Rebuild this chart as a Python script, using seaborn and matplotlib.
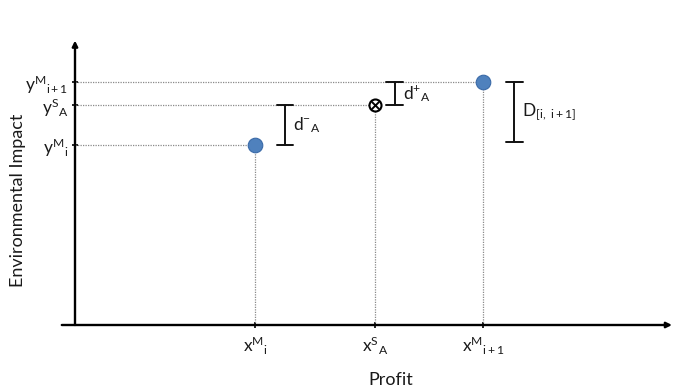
import matplotlib
matplotlib.use("Agg")
from matplotlib import pyplot as plt
import seaborn as sns
import pandas as pd

# schematic positions (arbitrary units, origin at axes crossing)
point_names = ["M_i", "S_A", "M_i1"]
profit = [3.0, 5.0, 6.8]
impact = [5.0, 6.1, 6.75]
x_tick_labels = [r"$x^{M}{}_{i}$", r"$x^{S}{}_{A}$", r"$x^{M}{}_{i+1}$"]
y_tick_labels = [r"$y^{M}{}_{i}$", r"$y^{S}{}_{A}$", r"$y^{M}{}_{i+1}$"]

# distance brackets: x position, lower y, upper y, label
bracket_x = [3.5, 5.33, 7.32]
bracket_lo = [5.0, 6.1, 5.08]
bracket_hi = [6.1, 6.75, 6.75]
bracket_labels = [r"$d^{-}{}_{A}$", r"$d^{+}{}_{A}$", r"$D_{[i,\ i+1]}$"]

df = pd.DataFrame({"name": point_names, "Profit": profit, "Impact": impact})

sns.set_style("white")
plt.rcParams["font.family"] = ["Lato", "DejaVu Sans"]
plt.rcParams["mathtext.fontset"] = "custom"
plt.rcParams["mathtext.rm"] = "Lato"
plt.rcParams["mathtext.it"] = "Lato"
plt.rcParams["mathtext.bf"] = "Lato:bold"
plt.rcParams["mathtext.default"] = "regular"

fig = plt.figure(figsize=(6.74, 3.89), dpi=100)
ax = fig.add_axes([75 / 674, 64 / 389, 595 / 674, 283 / 389])
ax.set_xlim(0, 9.917)
ax.set_ylim(0, 7.861)
for s in ax.spines.values():
    s.set_visible(False)

txt = "#1a1a1a"
# axes with arrows
ax.annotate("", xy=(9.95, 0), xytext=(-0.22, 0), annotation_clip=False,
            arrowprops=dict(arrowstyle="-|>", color="black", lw=1.7,
                            mutation_scale=8, shrinkA=0, shrinkB=0))
ax.annotate("", xy=(0, 7.9), xytext=(0, 0), annotation_clip=False,
            arrowprops=dict(arrowstyle="-|>", color="black", lw=1.7,
                            mutation_scale=8, shrinkA=0, shrinkB=0))

# dotted guide lines
for xv, yv in zip(profit, impact):
    ax.plot([0, xv], [yv, yv], ls=(0, (1, 1)), color="#8a8a8a", lw=0.9, zorder=1)
    ax.plot([xv, xv], [0, yv], ls=(0, (1, 1)), color="#8a8a8a", lw=0.9, zorder=1)

# model points
sns.scatterplot(data=df[df["name"] != "S_A"], x="Profit", y="Impact", ax=ax,
                s=110, color="#4f81bd", edgecolor="#3a6aa8", linewidth=0.8, zorder=3)
sol = df[df["name"] == "S_A"]
sns.scatterplot(data=sol, x="Profit", y="Impact", ax=ax, s=75, color="white",
                edgecolor="black", linewidth=1.5, zorder=3)
sns.scatterplot(data=sol, x="Profit", y="Impact", ax=ax, s=30, marker="x",
                color="black", linewidth=1.4, zorder=4)

# brackets
for bx, lo, hi, lab in zip(bracket_x, bracket_lo, bracket_hi, bracket_labels):
    ax.plot([bx, bx], [lo, hi], color="#111111", lw=1.4)
    ax.plot([bx - 0.14, bx + 0.14], [lo, lo], color="#111111", lw=1.4)
    ax.plot([bx - 0.14, bx + 0.14], [hi, hi], color="#111111", lw=1.4)
    ax.text(bx + 0.13, (lo + hi) / 2, lab, fontsize=12.5, color=txt,
            ha="left", va="center")

ax.set_xticks(profit)
ax.set_xticklabels(x_tick_labels, fontsize=12.5, color=txt)
ax.set_yticks(impact)
ax.set_yticklabels(y_tick_labels, fontsize=12.5, color=txt)
ax.tick_params(axis="both", which="both", direction="inout", length=4,
               width=1.2, color="black", bottom=True, left=True)
ax.tick_params(axis="x", pad=5)
ax.tick_params(axis="y", pad=3)

ax.set_xlabel("Profit", fontsize=13, color=txt)
ax.set_ylabel("Environmental Impact", fontsize=13, color=txt)
ax.xaxis.set_label_coords(0.531, -0.167)
ax.yaxis.set_label_coords(-0.082, 0.44)

fig.savefig("out.png", dpi=100)
